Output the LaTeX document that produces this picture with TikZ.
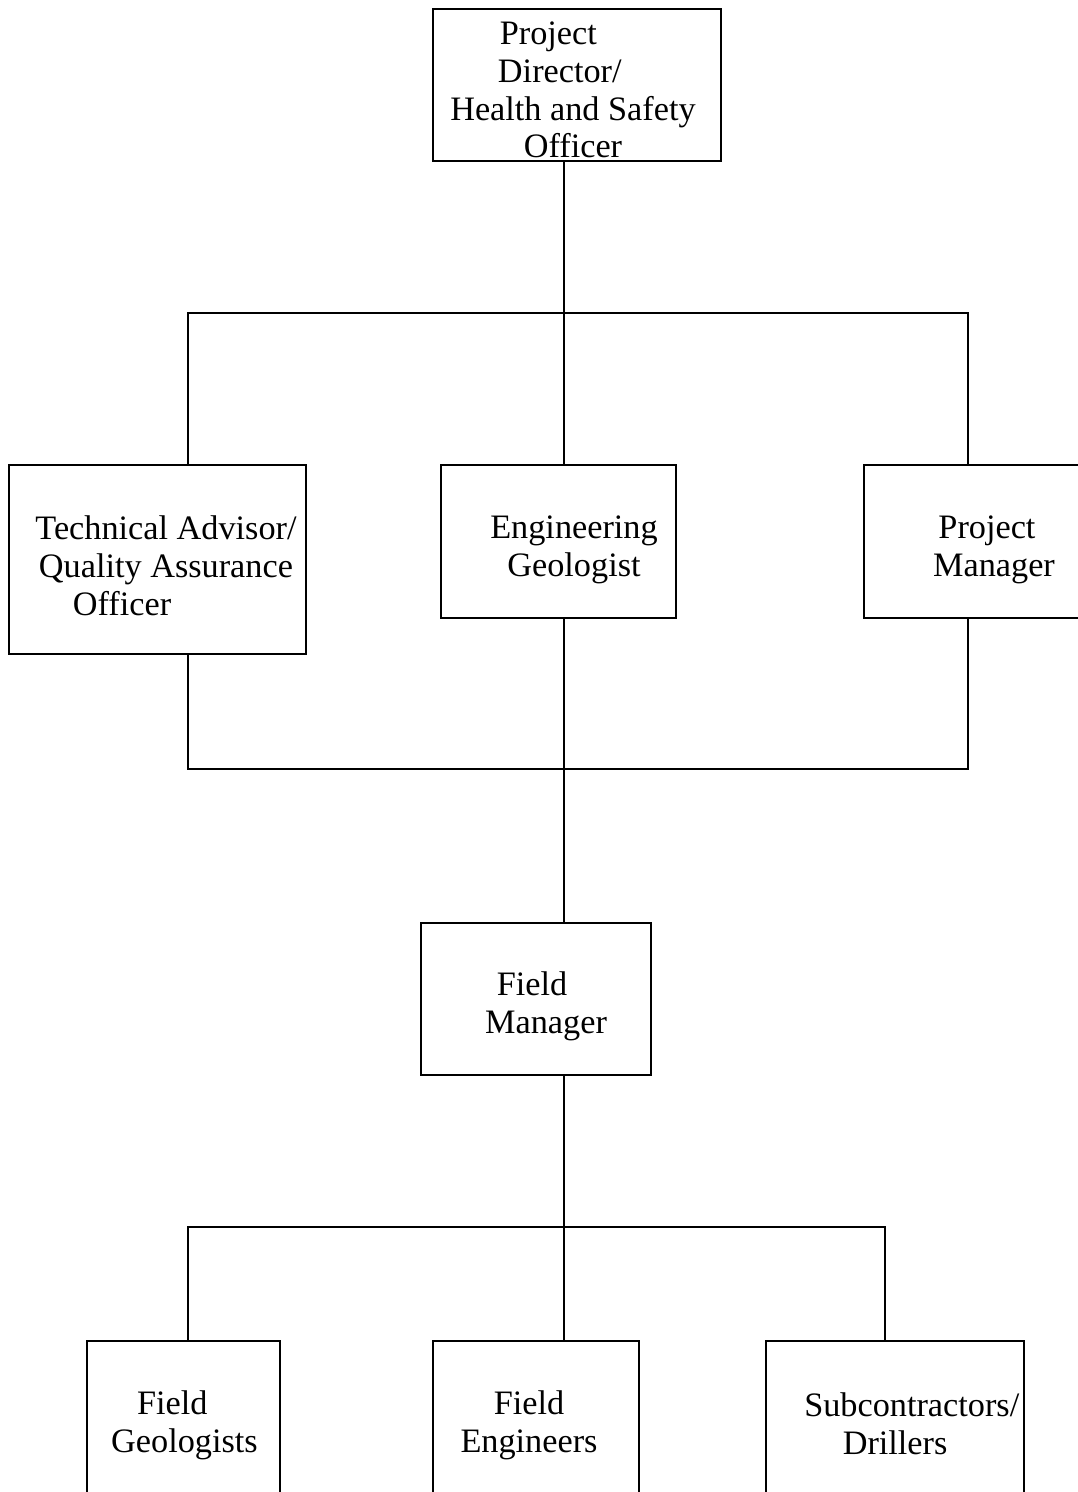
\documentclass[tikz,border=0pt]{standalone}
\usepackage{fontspec}
\setmainfont{Liberation Serif}
\begin{document}
\begin{tikzpicture}[x=0.02cm,y=-0.02cm,
  box/.style={draw,line width=1.1pt,inner sep=0pt,rectangle},
  txt/.style={align=center,inner sep=0pt,font=\fontsize{19.5}{21.5}\selectfont},
  conn/.style={draw,line width=1.1pt}]
\useasboundingbox (0,0) rectangle (1078,1492);
\clip (0,0) rectangle (1078,1492);
% boxes
\node[box,minimum width=5.76cm,minimum height=3.04cm] (top) at (577,85) {};
\node[box,minimum width=5.94cm,minimum height=3.78cm] (tech) at (157.5,559.5) {};
\node[box,minimum width=4.70cm,minimum height=3.06cm] (eng) at (558.5,541.5) {};
\node[box,minimum width=4.32cm,minimum height=3.06cm] (pm) at (972,541.5) {};
\node[box,minimum width=4.60cm,minimum height=3.04cm] (fm) at (536,999) {};
\node[box,minimum width=3.86cm,minimum height=3.18cm] (fg) at (183.5,1420.5) {};
\node[box,minimum width=4.12cm,minimum height=3.18cm] (fe) at (536,1420.5) {};
\node[box,minimum width=5.16cm,minimum height=3.18cm] (sub) at (895,1420.5) {};
% texts
\node[txt] (topT) at (573,90) {\hbox{Project\kern28pt}\\\hbox{Director/\kern15pt}\\Health and Safety\\Officer};
\node[txt] (techT) at (166,566) {Technical Advisor/\\Quality Assurance\\\hbox{Officer\kern50pt}};
\node[txt] (engT) at (574,550) {Engineering\\Geologist};
\node[txt] (pmT) at (994,550) {\hbox{Project\kern8pt}\\Manager};
\node[txt] (fmT) at (539,1006) {\hbox{Field\kern8pt}\\\hbox{\kern8pt Manager}};
\node[txt] (fgT) at (181,1425) {\hbox{Field\kern10pt}\\\hbox{\kern4pt Geologists}};
\node[txt] (feT) at (529,1425) {Field\\Engineers};
\node[txt] (subT) at (903,1424) {\hbox{\kern10pt Subcontractors/}\\\hbox{Drillers\kern9pt}};
% connector coordinates
\coordinate (cL) at (188,0);
\coordinate (cM) at (564,0);
\coordinate (cR) at (968,0);
\coordinate (cS) at (885,0);
\coordinate (bar1) at (564,313);
\coordinate (bar2) at (564,769);
\coordinate (bar3) at (564,1227);
% connectors
\draw[conn] (top.south -| cM) -- (eng.north -| cM);
\draw[conn] (tech.north -| cL) |- (bar1) -| (pm.north -| cR);
\draw[conn] (tech.south -| cL) |- (bar2) -| (pm.south -| cR);
\draw[conn] (eng.south -| cM) -- (fm.north -| cM);
\draw[conn] (fm.south -| cM) -- (fe.north -| cM);
\draw[conn] (fg.north -| cL) |- (bar3) -| (sub.north -| cS);
\end{tikzpicture}
\end{document}
